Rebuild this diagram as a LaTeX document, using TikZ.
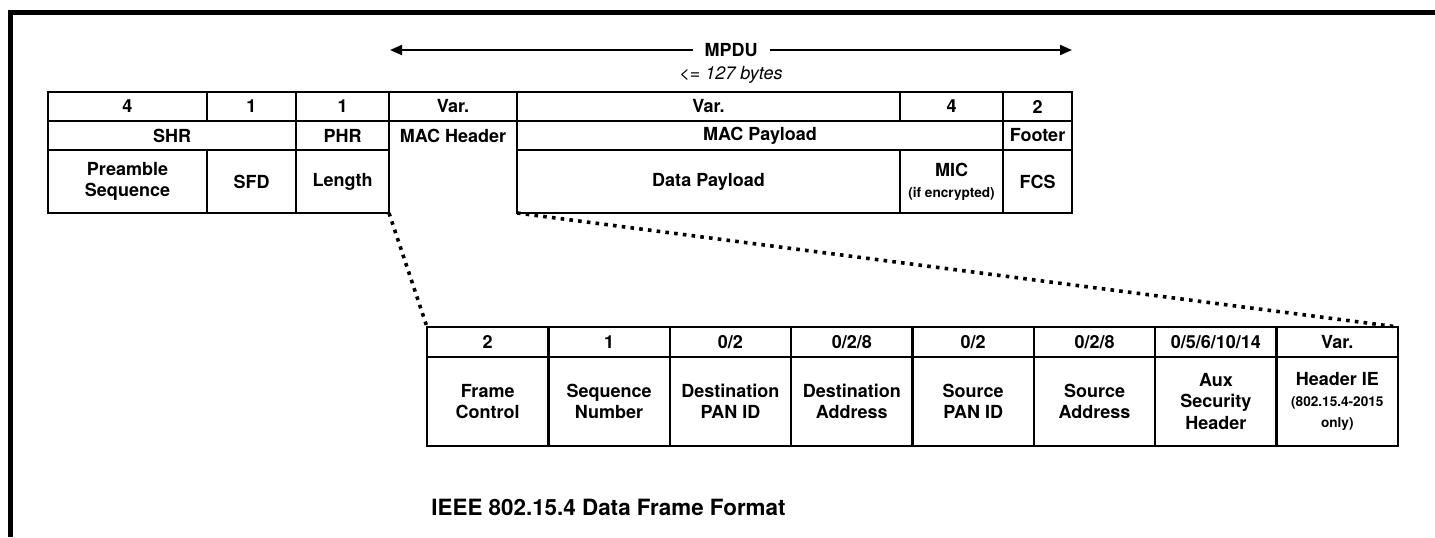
\documentclass[tikz,border=0pt]{standalone}
\usepackage{fontspec}
\setmainfont{TeX Gyre Heros}
\usetikzlibrary{arrows.meta}

% one table cell, given by its pixel corners x1 x2 y1 y2
\newcommand{\tcell}[6]{%
  \node[cell, minimum width={(#3-#2)*0.5pt}, minimum height={(#5-#4)*0.5pt}]
    (#1) at ({(#2+#3)/2},{(#4+#5)/2}) {#6};}
\newcommand{\notefont}{\fontsize{6.8}{7.6}\selectfont}

\tikzset{
  cell/.style={draw, line width=1.2pt, inner sep=0pt, outer sep=0pt, align=center,
    font=\bfseries\fontsize{9}{10.6}\selectfont},
  dotline/.style={line width=1.8pt, dash pattern=on 1.8pt off 2.6pt},
  span/.style={<->, >={Triangle[length=6pt, width=5pt]}, line width=1pt},
}

\begin{document}
\begin{tikzpicture}[x=0.5pt, y=-0.5pt]
  \useasboundingbox (0,0) rectangle (1435,537);
  \draw[line width=2.5pt] (1435,12.5) -- (10,12.5) -- (10,537);

  % MPDU span
  \coordinate (mpduL) at (390,50);
  \coordinate (mpduR) at (1072,50);
  \draw[span] (mpduL) -- node[fill=white, inner xsep=6pt, font=\bfseries\fontsize{9}{10}\selectfont] (mpdu) {MPDU} (mpduR);
  \node[font=\itshape\fontsize{9}{10}\selectfont] (bytes) at (731,75) {<= 127 bytes};

  % PHY frame
  \tcell{s1}{48}{207}{92}{121}{4}
  \tcell{s2}{207}{296}{92}{121}{1}
  \tcell{s3}{296}{389}{92}{121}{1}
  \tcell{s4}{389}{517}{92}{121}{Var.}
  \tcell{s5}{517}{900}{92}{121}{Var.}
  \tcell{s6}{900}{1003}{92}{121}{4}
  \tcell{s7}{1003}{1072}{92}{121}{2}
  \tcell{shr}{48}{296}{121}{150}{SHR}
  \tcell{phr}{296}{389}{121}{150}{PHR}
  \tcell{payload}{517}{1003}{121}{150}{MAC Payload}
  \tcell{footer}{1003}{1072}{121}{150}{Footer}
  \tcell{preamble}{48}{207}{150}{213}{Preamble\\Sequence}
  \tcell{sfd}{207}{296}{150}{213}{SFD}
  \tcell{length}{296}{389}{150}{213}{Length}
  \tcell{data}{517}{900}{150}{213}{Data Payload}
  \tcell{mic}{900}{1003}{150}{213}{MIC\\\notefont (if encrypted)}
  \tcell{fcs}{1003}{1072}{150}{213}{FCS}
  \node[cell, draw=none] (machdr) at (453,135.5) {MAC Header};

  % MAC header fields
  \foreach \i/\sz/\nm in {1/2/{Frame\\Control}, 2/1/{Sequence\\Number},
      3/{0/2}/{Destination\\PAN ID}, 4/{0/2/8}/{Destination\\Address},
      5/{0/2}/{Source\\PAN ID}, 6/{0/2/8}/{Source\\Address},
      7/{0/5/6/10/14}/{Aux\\Security\\Header},
      8/Var./{Header IE\\\notefont (802.15.4-2015\\\notefont only)}} {
    \pgfmathsetmacro{\xa}{427+121.375*(\i-1)}
    \pgfmathsetmacro{\xb}{\xa+121.375}
    \tcell{sz\i}{\xa}{\xb}{327}{357}{\sz}
    \tcell{fld\i}{\xa}{\xb}{357}{446}{\nm}
  }

  \draw[dotline] (length.south east) -- (sz1.north west);
  \draw[dotline] (data.south west) -- (sz8.north east);

  \node[anchor=west, inner sep=0pt, font=\bfseries\fontsize{11.2}{13}\selectfont] (title) at (431,507) {IEEE 802.15.4 Data Frame Format};
\end{tikzpicture}
\end{document}
